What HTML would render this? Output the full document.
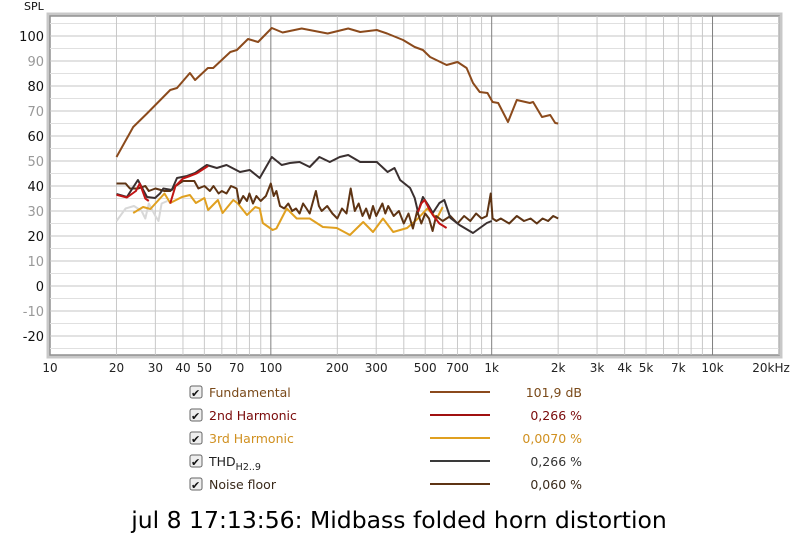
<!DOCTYPE html>
<html><head><meta charset="utf-8">
<style>
body{margin:0;background:#fff;width:800px;height:538px;overflow:hidden;font-family:"DejaVu Sans","Liberation Sans",sans-serif;}
svg{position:absolute;left:0;top:0}
</style></head>
<body>
<svg id="chart" width="800" height="538" xmlns="http://www.w3.org/2000/svg" font-family="DejaVu Sans, Liberation Sans, sans-serif"></svg>
<script>
const fundF=[20,23.8,27.5,35,37.6,43,45.4,51.9,54.8,65.5,70.2,78.8,87.6,101,113,138,181,224,254,302,336,397,448,488,526,625,700,770,823,883,957,1010,1070,1185,1300,1490,1540,1690,1840,1940,2000];
const fundV=[51.6,63.6,69,78.4,79.2,85.2,82.4,87.2,87.2,93.6,94.4,98.8,97.6,103.2,101.4,103,101,103,101.6,102.4,101,98.4,95.6,94.4,91.6,88.4,89.6,87.2,81.2,77.6,77.2,73.6,73.2,65.6,74.4,73.2,73.6,67.6,68.4,65.2,65];
const thdF=[20,22.3,25,27.5,29.9,31.5,32.6,35.6,37.6,41.7,45.4,51.3,56.9,63,72.5,80.3,89,101,112,122,135,150,166,185,205,224,254,302,338,363,385,427,448,464,488,516,541,580,610,650,715,823,950,1000];
const thdV=[36.8,35.6,42.4,35.6,35.2,37,39,38.4,43.2,44,45.2,48.4,47.2,48.4,45.6,46.4,43.2,51.6,48.4,49.2,49.6,47.6,51.6,49.6,51.6,52.4,49.6,49.6,45.6,47.2,42.4,39.2,35.2,29.6,35.6,32.4,29.2,33.2,34.4,27.2,24.4,21.2,25.2,26];
const h2F=[20,22.3,24.5,25.5,27,28,30,35,37,40,43,46,52,100,464,480,497,520,541,580,625];
const h2V=[36.5,35.4,38,41,35,34,null,33,40,43,44,45,48,null,29.6,33,34.4,31,28.4,25,23.2];
const h3F=[23.8,26.4,28.5,33,35,39.6,43,45.8,50,52,57.6,60.5,67.6,70.9,78,85,89,92,102,106,118,131,150,172,199,228,262,290,322,358,414,464,511,564,600];
const h3V=[29.2,31.6,30.8,37,33.2,35.6,36.4,33.2,35.2,30.4,34.4,29.2,34.4,33,28.4,31.6,31,25.2,22.4,23,31,27,27,23.6,23.2,20.4,25.6,21.6,27,21.6,23.2,27,31,27,31.6];
const greyF=[20,22,24,26,27,28,30,31,32,34];
const greyV=[26,31,32,30,27,33,28,26,33,34];
const noiseF=[20,22,23,25,27,28,30,33,35,37,40,42,45,47,50,53,55,58,60,63,66,70,72,75,78,80,83,86,90,95,100,103,106,110,115,120,125,130,135,140,145,150,160,165,170,180,190,200,210,220,230,240,250,260,270,280,290,300,320,330,340,360,380,400,420,440,460,480,500,520,540,560,600,650,700,750,800,850,900,950,990,1010,1050,1100,1200,1300,1400,1500,1600,1700,1800,1900,2000];
const noiseV=[41,41,39,39,40,38,39,38,38,40,42,42,42,39,40,38,40,37,38,37,40,39,33,36,34,37,33,36,34,36,41,36,38,32,31,33,30,31,29,33,31,29,38,32,30,32,29,27,31,29,39,30,33,28,31,27,32,28,33,29,32,28,30,25,29,23,30,25,29,27,22,28,26,28,25,28,26,29,27,28,37,27,26,27,25,28,26,27,25,27,26,28,27];
const yTicks=[100,90,80,70,60,50,40,30,20,10,0,-10,-20];
const xTicks=[10,20,30,40,50,70,100,200,300,500,700,1000,2000,3000,4000,5000,7000,10000,20000];
const xLabels=["10","20","30","40","50","70","100","200","300","500","700","1k","2k","3k","4k","5k","7k","10k","20kHz"];

const NS="http://www.w3.org/2000/svg";
const svg=document.getElementById('chart');
const L=50,R=779,T=16,B=355;
const X=f=>L+(R-L)*Math.log10(f/10)/Math.log10(2000);
const Y=v=>286-v*2.5;
function mk(tag,attrs,parent){const e=document.createElementNS(NS,tag);for(const k in attrs)e.setAttribute(k,attrs[k]);(parent||svg).appendChild(e);return e;}

const shadow=mk('rect',{x:L-2,y:T-2,width:R-L+4,height:B-T+4,fill:'none',stroke:'#c8c8c8','stroke-width':3});


const plot=mk('rect',{x:L,y:T,width:R-L,height:B-T,fill:'#fff',stroke:'#909090','stroke-width':1.5});



for(let v=-25;v<=105;v+=5){
  const major=v%10===0;
  const g=mk('line',{x1:L,x2:R,y1:Y(v),y2:Y(v),stroke:major?'#c4c4c4':'#e0e0e0','stroke-width':1});
  
  
}
for(let d=10;d<=10000;d*=10){for(let m=1;m<10;m++){const f=d*m;if(f>20000)break;if(f===10)continue;
  const dec=(m===1);
  const g=mk('line',{x1:X(f),x2:X(f),y1:T,y2:B,stroke:dec?'#808080':'#c8c8c8','stroke-width':1});
  
  
}}
yTicks.forEach(v=>{
  const t=mk('text',{x:44,y:Y(v)+5,'text-anchor':'end','font-size':13,fill:(v%20===0)?'#111':'#999'});
  t.textContent=String(v);
  
  
});
const spl=mk('text',{x:24,y:10,'font-size':11,fill:'#111'});spl.textContent='SPL';


xTicks.forEach((f,i)=>{
  const t=mk('text',{x:X(f)+(i===xTicks.length-1?-8:0),y:372,'text-anchor':'middle','font-size':12,fill:'#222'});
  t.textContent=xLabels[i];
  
  
});

function series(F,V,color,name,w){
  let d='',pen=false;
  F.forEach((f,i)=>{
    if(V[i]===null){pen=false;return;}
    d+=(pen?'L':'M')+X(f).toFixed(1)+','+Y(V[i]).toFixed(1)+' ';pen=true;
  });
  const p=mk('path',{d:d,fill:'none',stroke:color,'stroke-width':w||2,'stroke-linejoin':'round'});
  
  
}
series(greyF,greyV,'#d8d8d8','noise-grey-line');
series(h3F,h3V,'#e0a020','third-harmonic-line');
series(noiseF,noiseV,'#5e3414','noise-floor-line');
series(thdF,thdV,'#3a3030','thd-line');
series(h2F,h2V,'#c01515','second-harmonic-line');
series(fundF,fundV,'#8b4a1c','fundamental-line');

const leg=[['Fundamental','#7a4a1a','#8b4a1c','101,9 dB','#7a4a1a'],['2nd Harmonic','#7a0a0a','#a01010','0,266 %','#7a0a0a'],['3rd Harmonic','#d09020','#e0a020','0,0070 %','#d09020'],['THD','#222','#3a3a3a','0,266 %','#333'],['Noise floor','#3a2a1a','#5e3414','0,060 %','#3a2a1a']];
leg.forEach((l,i)=>{
  const y=392+i*23;
  const g=mk('g',{});
  
  
  const cb=mk('rect',{x:190,y:y-6,width:12,height:12,rx:2,fill:'#eee',stroke:'#666'},g);
  
  
  const ck=mk('text',{x:191,y:y+5,'font-size':11,fill:'#111'},g);ck.textContent='✔';
  const t=mk('text',{x:209,y:y+5,'font-size':12.5,fill:l[1]},g);
  if(i===3){t.textContent='THD';const s=mk('tspan',{dy:4,'font-size':9.5},t);s.textContent='H2..9';}
  else t.textContent=l[0];
  const ln=mk('line',{x1:430,x2:490,y1:y,y2:y,stroke:l[2],'stroke-width':2},g);
  
  
  const v=mk('text',{x:582,y:y+5,'text-anchor':'end','font-size':12.5,fill:l[4]},g);v.textContent=l[3];
});
const title=mk('text',{x:399,y:528,'text-anchor':'middle','font-size':23.5,fill:'#000'});
title.textContent='jul 8 17:13:56: Midbass folded horn distortion';


</script>
</body></html>
